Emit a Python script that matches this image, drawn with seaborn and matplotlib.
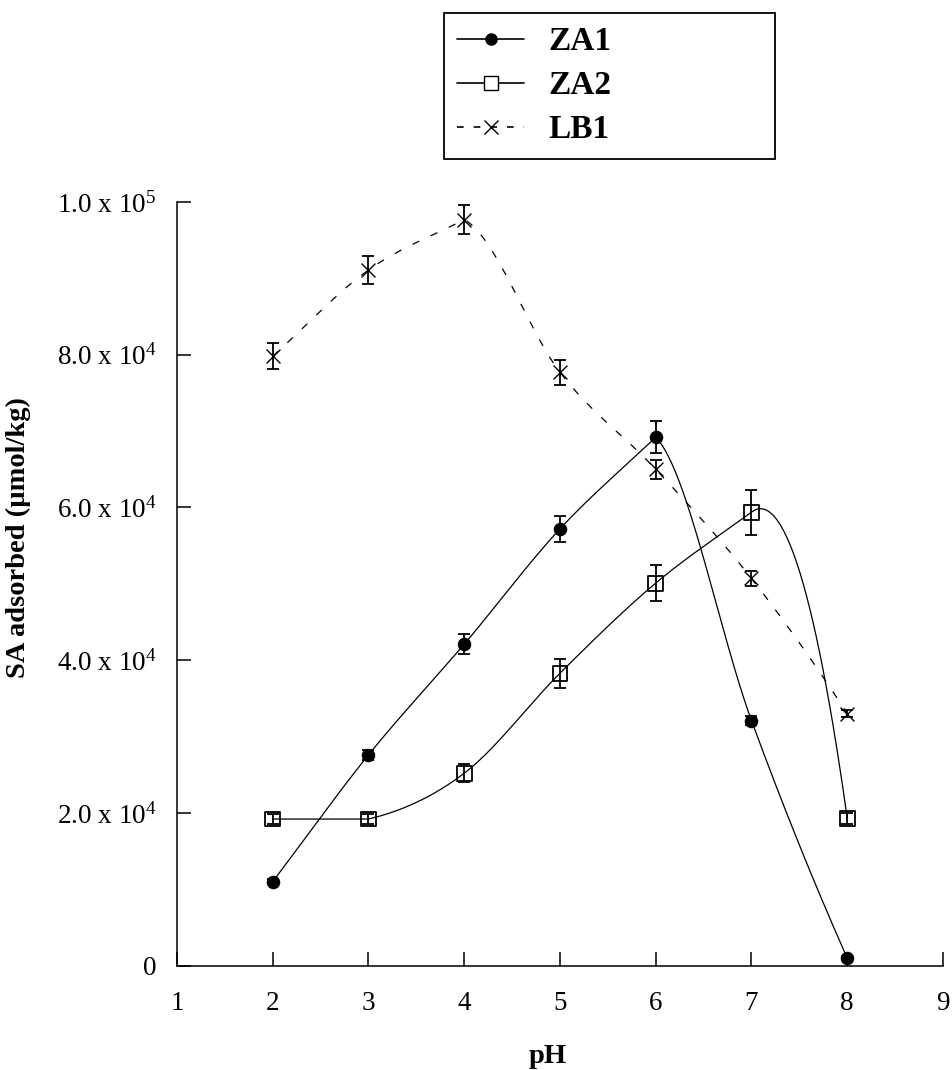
import numpy as np
import pandas as pd
import matplotlib
matplotlib.use('Agg')
import matplotlib.pyplot as plt
from matplotlib.lines import Line2D
import seaborn as sns

# data (SA adsorbed, umol/kg)
ph = [2, 3, 4, 5, 6, 7, 8]
za1 = [11000, 27600, 42100, 57200, 69200, 32100, 1000]
za1_err = [300, 650, 1300, 1660, 2100, 600, 300]
za2 = [19200, 19200, 25200, 38300, 50100, 59400, 19300]
za2_err = [600, 600, 1150, 1900, 2400, 2950, 700]
lb1 = [79800, 91100, 97700, 77700, 65000, 50700, 33000]
lb1_err = [1700, 1810, 1900, 1600, 1270, 980, 500]

yticks = [0, 20000, 40000, 60000, 80000, 100000]
ytick_labels = ['0', '2.0 x 10$^{4}$', '4.0 x 10$^{4}$', '6.0 x 10$^{4}$',
                '8.0 x 10$^{4}$', '1.0 x 10$^{5}$']

sns.set_style('ticks')
plt.rcParams['font.family'] = ['Liberation Serif', 'DejaVu Serif']
plt.rcParams['mathtext.default'] = 'regular'
plt.rcParams['mathtext.fontset'] = 'custom'
plt.rcParams['mathtext.rm'] = 'Liberation Serif'
for k in ['text.color', 'axes.labelcolor', 'xtick.color', 'ytick.color']:
    plt.rcParams[k] = 'black'


def smooth(xs, ys, n=60):
    # hermite curve through the points; at a turning point the curve
    # comes in along the chord and leaves with the averaged slope,
    # last segment is a parabola continuing the incoming slope
    xs = np.asarray(xs, float)
    ys = np.asarray(ys, float)
    k = len(xs)
    sl = np.diff(ys) / np.diff(xs)
    tin = np.zeros(k)
    tout = np.zeros(k)
    tout[0] = sl[0]
    for i in range(1, k - 1):
        c = (sl[i - 1] + sl[i]) / 2
        tout[i] = c
        tin[i] = sl[i - 1] if sl[i - 1] * sl[i] <= 0 else c
    outx, outy = [], []
    t = np.linspace(0, 1, n)
    for i in range(k - 1):
        h = xs[i + 1] - xs[i]
        if i == k - 2:
            m1 = 2 * sl[i] - tin[i] if i > 0 else sl[i]
            m0 = tin[i] if i > 0 else sl[i]
        else:
            m0, m1 = tout[i], tin[i + 1]
        h00 = 2 * t**3 - 3 * t**2 + 1
        h10 = t**3 - 2 * t**2 + t
        h01 = -2 * t**3 + 3 * t**2
        h11 = t**3 - t**2
        outx.append(xs[i] + t * h)
        outy.append(h00 * ys[i] + h10 * h * m0 + h01 * ys[i + 1] + h11 * h * m1)
    return np.concatenate(outx), np.concatenate(outy)


fig = plt.figure(figsize=(9.53, 10.70), dpi=100)
ax = fig.add_axes([0.1857, 0.0975, 0.8038, 0.7137])

series = [
    ('ZA1', za1, za1_err, '-', 'o'),
    ('ZA2', za2, za2_err, '-', 's'),
    ('LB1', lb1, lb1_err, (0, (6, 10)), 'x'),
]

for name, vals, err, ls, mk in series:
    cx, cy = smooth(ph, vals)
    sns.lineplot(x=cx, y=cy, ax=ax, color='black', lw=0.9, linestyle=ls,
                 sort=False, estimator=None)
    ax.errorbar(ph, vals, yerr=err, fmt='none', ecolor='black', elinewidth=1.3,
                capsize=4.5, capthick=1.3, zorder=3)
    if mk == 'x':
        sns.scatterplot(x=ph, y=vals, ax=ax, marker='x', color='black', s=100,
                        linewidth=1.0, zorder=4)
    elif mk == 's':
        sns.scatterplot(x=ph, y=vals, ax=ax, marker='s', facecolors='none',
                        edgecolor='black', s=115, linewidth=1.3, zorder=4)
    else:
        sns.scatterplot(x=ph, y=vals, ax=ax, marker='o', color='black', s=95,
                        linewidth=0, zorder=4)

ax.set_xlim(1, 9)
ax.set_ylim(0, 100000)
ax.set_xticks(range(1, 10))
ax.set_yticks(yticks)
ax.set_yticklabels(ytick_labels)
ax.tick_params(axis='both', direction='in', length=10, width=1.1, labelsize=19.5,
               colors='black')
ax.tick_params(axis='x', pad=18)
ax.tick_params(axis='y', pad=15)
sns.despine(ax=ax)
for s in ['left', 'bottom']:
    ax.spines[s].set_linewidth(1.1)
    ax.spines[s].set_color('black')

ax.set_xlabel('pH', fontsize=20.5, fontweight='bold')
ax.set_ylabel('SA adsorbed (\u00b5mol/kg)', fontsize=20.5, fontweight='bold')
ax.xaxis.set_label_coords(0.484, -0.103)
ax.yaxis.set_label_coords(-0.19, 0.561)

handles = [
    Line2D([], [], color='black', lw=1.2, marker='o', markersize=8, markerfacecolor='black'),
    Line2D([], [], color='black', lw=1.2, marker='s', markersize=10, markerfacecolor='white'),
    Line2D([], [], color='black', lw=1.2, linestyle=(0, (4, 6)), marker='x', markersize=10),
]
leg = fig.legend(handles, ['ZA1', 'ZA2', 'LB1'], loc='upper left',
                 bbox_to_anchor=(444 / 953, 1 - 13 / 1070, 331 / 953, 0), mode='expand',
                 prop={'family': 'Liberation Serif', 'weight': 'bold', 'size': 24},
                 frameon=True, fancybox=False, edgecolor='black', framealpha=1,
                 handlelength=2.0, handletextpad=0.72, labelspacing=0.39,
                 borderpad=0.4, borderaxespad=0)
leg.get_frame().set_linewidth(1.3)

fig.savefig('out.png', dpi=100)
